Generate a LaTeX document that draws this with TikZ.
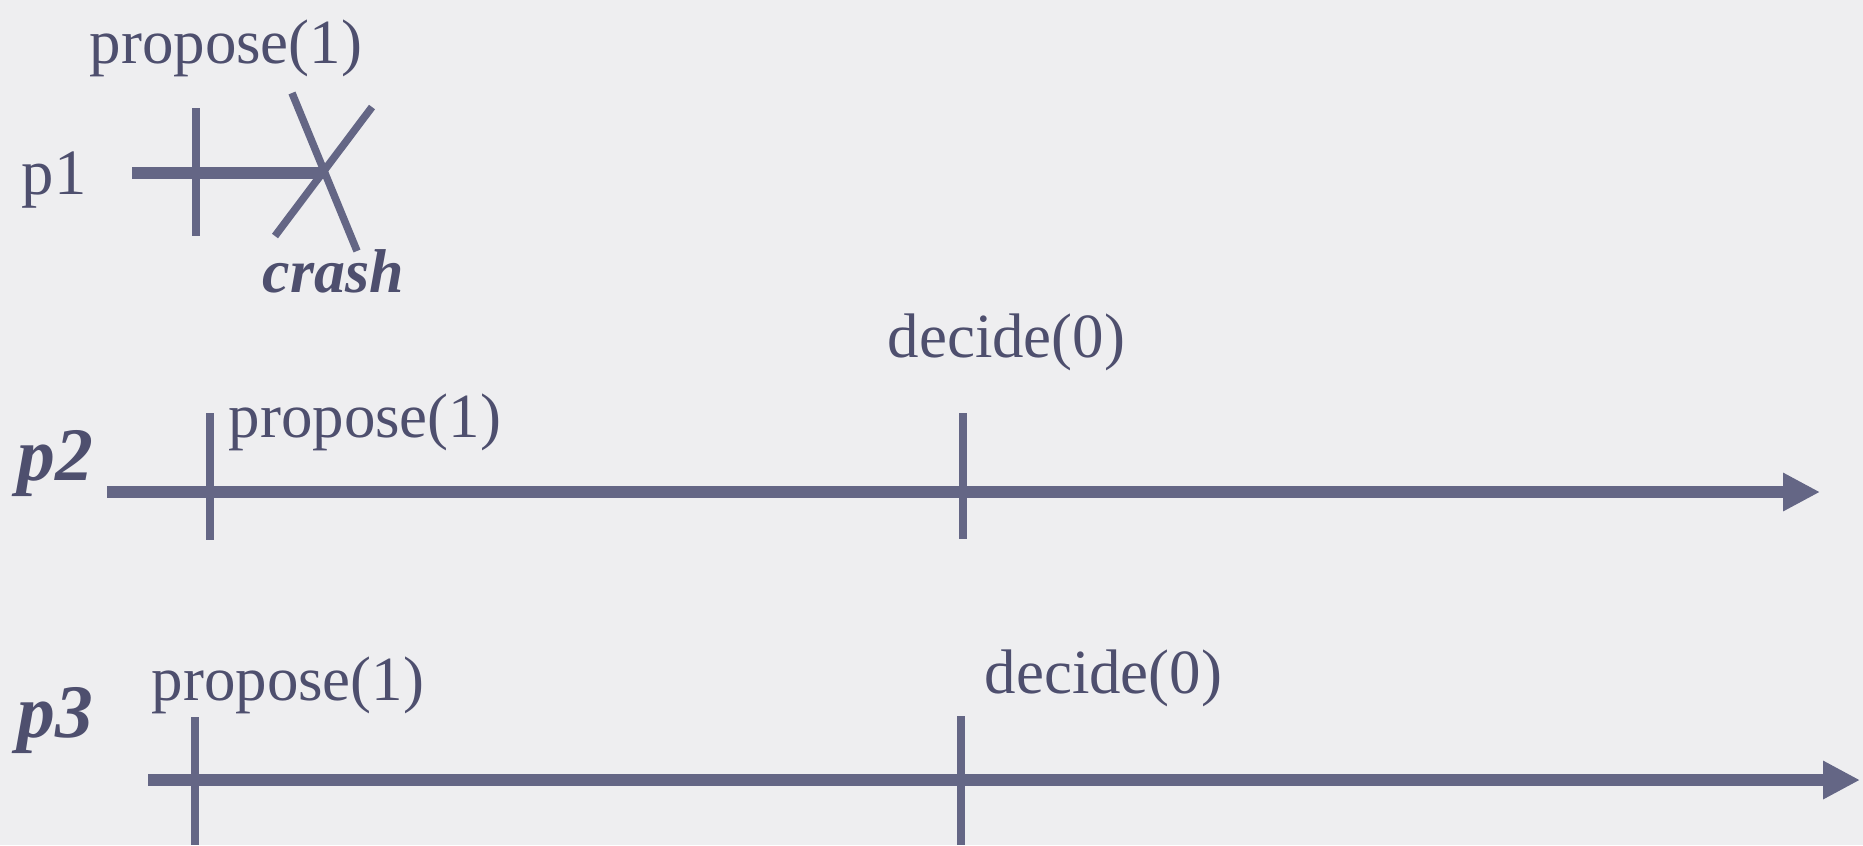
\documentclass[tikz,border=0pt]{standalone}
\usepackage{fontspec}
\setmainfont{Liberation Serif}
\usetikzlibrary{arrows.meta}

\definecolor{linecol}{RGB}{100,102,133}
\definecolor{textcol}{RGB}{78,79,110}
\definecolor{papercol}{RGB}{238,238,240}

\tikzset{
  timeline/.style={draw=linecol, line width=0.12cm},
  arrowline/.style={timeline, -{Triangle[length=0.37cm,width=0.36cm]}},
  evtick/.style={draw=linecol, line width=0.075cm},
  evtext/.style={anchor=base west, inner sep=0pt, text=textcol,
    font=\fontsize{17.9}{21}\selectfont},
  procname/.style={evtext, font=\fontsize{21.5}{25}\selectfont\bfseries\itshape},
}

\begin{document}
\begin{tikzpicture}[y=-1cm]
  % Background
  \fill[papercol] (0,0) rectangle (18.63,8.45);
  \useasboundingbox (0,0) rectangle (18.63,8.45);

  % Process p1, crashes after propose
  \node[evtext, font=\fontsize{18.4}{22}\selectfont] (p1) at (0.21,1.94) {p1};
  \node[evtext] (prop1) at (0.89,0.63) {propose(1)};
  \node[evtext, font=\fontsize{17.6}{21}\selectfont\bfseries\itshape] (crash) at (2.62,2.92) {crash};
  \coordinate (p1start) at (1.32,1.73);
  \coordinate (p1crash) at (3.22,1.73);
  \draw[timeline] (p1start) -- (p1crash);
  \draw[evtick] (1.96,1.08) -- (1.96,2.36);
  \draw[evtick] (2.92,0.93) -- (3.57,2.51);
  \draw[evtick] (3.72,1.07) -- (2.75,2.36);

  % Process p2
  \node[procname] (p2) at (0.17,4.80) {p2};
  \node[evtext] (prop2) at (2.28,4.37) {propose(1)};
  \node[evtext] (dec2) at (8.87,3.57) {decide(0)};
  \coordinate (p2start) at (1.07,4.92);
  \coordinate (p2end) at (18.20,4.92);
  \draw[arrowline] (p2start) -- (p2end);
  \draw[evtick] (2.10,4.13) -- (2.10,5.40);
  \draw[evtick] (9.63,4.13) -- (9.63,5.39);

  % Process p3
  \node[procname] (p3) at (0.17,7.37) {p3};
  \node[evtext] (prop3) at (1.51,7.00) {propose(1)};
  \node[evtext] (dec3) at (9.84,6.93) {decide(0)};
  \coordinate (p3start) at (1.48,7.80);
  \coordinate (p3end) at (18.60,7.80);
  \draw[arrowline] (p3start) -- (p3end);
  \draw[evtick] (1.95,7.17) -- (1.95,8.45);
  \draw[evtick] (9.61,7.16) -- (9.61,8.45);
\end{tikzpicture}
\end{document}
